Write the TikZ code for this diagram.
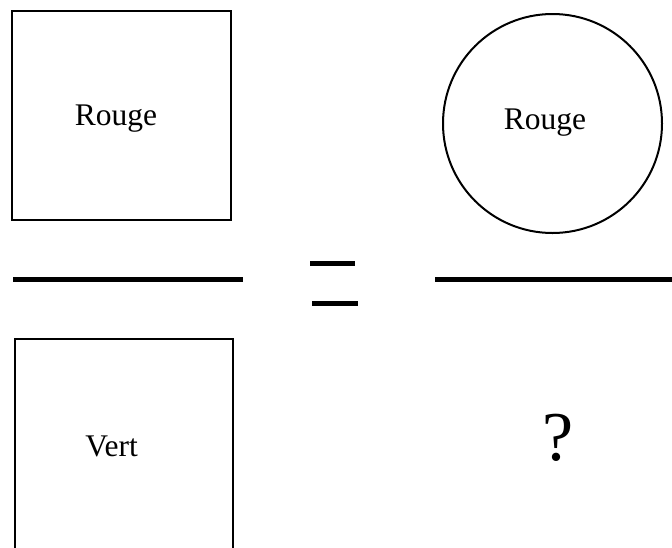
\documentclass[tikz,border=0pt]{standalone}
\usepackage{fontspec}
\setmainfont{Liberation Serif}
\begin{document}
\begin{tikzpicture}[x=1pt,y=-1pt,
  box/.style={draw=black,line width=2.5pt},
  ring/.style={draw=black,line width=2pt},
  lbl/.style={anchor=base,inner sep=0pt,font=\fontsize{31.5}{36}\selectfont},
  big/.style={anchor=base,inner sep=0pt,font=\fontsize{70}{80}\selectfont},
  bar/.style={fill=black}]
\useasboundingbox (0,0) rectangle (672,547);
\clip (0,0) rectangle (672,547);
% top square
\draw[box] (12,11) rectangle (231,220);
\node[lbl] (rougeA) at (116,125) {Rouge};
% circle
\draw[ring] (552.5,123.5) circle[radius=109.5];
\node[lbl] (rougeB) at (545,129) {Rouge};
% fraction bars
\fill[bar] (13,277) rectangle (243,282);
\fill[bar] (435,277) rectangle (680,282);
% equal sign
\fill[bar] (310,261) rectangle (355,266);
\fill[bar] (312,301) rectangle (357.5,306);
% bottom square
\draw[box] (15,339) rectangle (233,570);
\node[lbl] (vert) at (111.5,456) {Vert};
% question mark
\node[big] (q) at (558,460) {?};
\end{tikzpicture}
\end{document}
